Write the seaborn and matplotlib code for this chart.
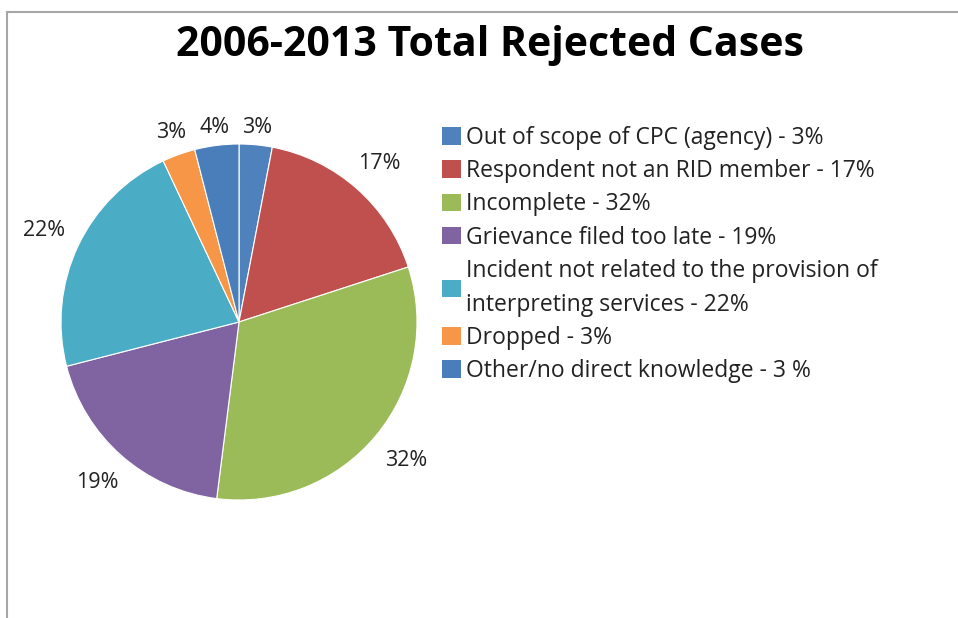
import matplotlib
matplotlib.use('Agg')
import matplotlib.pyplot as plt
import matplotlib.patches as mpatches
import numpy as np
import seaborn as sns

# Data
categories = ['Out of scope of CPC (agency) - 3%',
              'Respondent not an RID member - 17%',
              'Incomplete - 32%',
              'Grievance filed too late - 19%',
              'Incident not related to the provision of\ninterpreting services - 22%',
              'Dropped - 3%',
              'Other/no direct knowledge - 3 %']
values = [3, 17, 32, 19, 22, 3, 4]
colors = ['#4F81BD', '#C0504D', '#9BBB59', '#8064A2', '#4BACC6', '#F79646', '#4A7EBB']

sns.set_theme(style='white')
plt.rcParams['font.family'] = ['Open Sans', 'DejaVu Sans']

fig = plt.figure(figsize=(9.58, 6.18), dpi=100)
W, H = 958, 618

# pie axes placed in pixel units (pie radius 1 of 1.25 half-width)
ax = fig.add_axes([16.5 / W, 73.5 / H, 445 / W, 445 / H])
wedges, texts, autotexts = ax.pie(
    values, colors=sns.color_palette(colors), startangle=90, counterclock=False,
    autopct=lambda p: f'{p:.0f}%', pctdistance=1.19,
    wedgeprops=dict(edgecolor='white', linewidth=0.8),
    textprops=dict(fontsize=15.5, color='#222222'))
ax.set_aspect('equal')

# pull the small top labels a bit closer to the pie, like Excel's best-fit
label_dist = [1.10, 1.19, 1.22, 1.20, 1.21, 1.13, 1.10]
for w, t, d in zip(wedges, autotexts, label_dist):
    ang = np.deg2rad((w.theta1 + w.theta2) / 2)
    t.set_position((d * np.cos(ang), d * np.sin(ang)))

handles = [mpatches.Patch(facecolor=c, edgecolor='none') for c in colors]
leg = fig.legend(handles, categories, loc='upper left', bbox_to_anchor=(442 / W, 1 - 126 / H),
                 frameon=False, fontsize=16.5, handlelength=0.85, handleheight=0.8,
                 handletextpad=0.2, labelspacing=0.4, borderaxespad=0, borderpad=0,
                 labelcolor='#222222')
for t in leg.get_texts():
    t.set_linespacing(1.55)

fig.text(490 / W, 1 - 45 / H, '2006-2013 Total Rejected Cases', ha='center', va='center',
         fontsize=29.5, fontweight='bold', color='black')

# chart frame (only top and left edges visible)
fig.add_artist(plt.Line2D([7 / W, 7 / W], [0, 1 - 12 / H], color='#A6A6A6', lw=1.5))
fig.add_artist(plt.Line2D([7 / W, 1], [1 - 12 / H, 1 - 12 / H], color='#A6A6A6', lw=1.5))

fig.savefig('out.png', dpi=100, facecolor='white')
